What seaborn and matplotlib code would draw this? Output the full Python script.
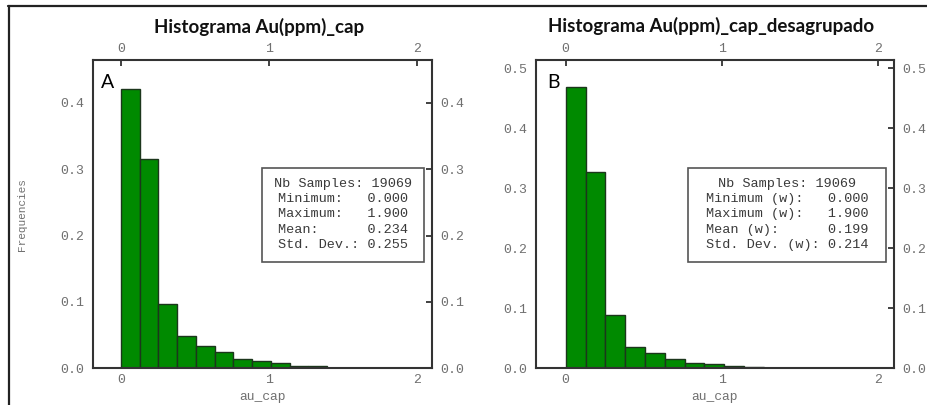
import numpy as np
import pandas as pd
import matplotlib
matplotlib.use("Agg")
import matplotlib.pyplot as plt
from matplotlib.lines import Line2D
from matplotlib.patches import Rectangle
import seaborn as sns

# Histogram data: 15 equal-width bins of au_cap between 0 and 1.9
bin_min = 0.0
bin_max = 1.9
n_bins = 15

# Relative frequencies per bin, raw samples
freq_raw = [0.421, 0.316, 0.0975, 0.049, 0.0336, 0.024, 0.0136, 0.011,
            0.0075, 0.0035, 0.0035, 0.0, 0.0, 0.0, 0.001]
# Relative frequencies per bin, declustered (weighted)
freq_decl = [0.468, 0.327, 0.0896, 0.0356, 0.025, 0.016, 0.009, 0.007,
             0.003, 0.0015, 0.0, 0.0, 0.0, 0.0, 0.0]

titles = ["Histograma Au(ppm)_cap", "Histograma Au(ppm)_cap_desagrupado"]
panel_tags = ["A", "B"]
x_label = "au_cap"
y_label = "Frequencies"

stats_raw = ["Nb Samples: 19069",
             "Minimum:   0.000",
             "Maximum:   1.900",
             "Mean:      0.234",
             "Std. Dev.: 0.255"]
stats_decl = ["Nb Samples: 19069",
              "Minimum (w):   0.000",
              "Maximum (w):   1.900",
              "Mean (w):      0.199",
              "Std. Dev. (w): 0.214"]

x_ticks = [0, 1, 2]
y_ticks_raw = [0.0, 0.1, 0.2, 0.3, 0.4]
y_ticks_decl = [0.0, 0.1, 0.2, 0.3, 0.4, 0.5]

sns.set_theme(style="white")
plt.rcParams["font.family"] = ["Liberation Mono", "DejaVu Sans Mono"]

BAR_GREEN = "#008a00"
BAR_EDGE = "#1c361c"
SPINE = "#333333"
TICK_TXT = "#707070"
STAT_TXT = "#3a3a3a"

fig = plt.figure(figsize=(9.28, 4.05), dpi=100)
W, H = 928.0, 405.0


def px_axes(left, right, top, bottom):
    return fig.add_axes([left / W, 1 - bottom / H, (right - left) / W, (bottom - top) / H])


ax_a = px_axes(92.7, 431.7, 60.3, 368.3)
ax_b = px_axes(536.0, 894.0, 60.3, 368.3)

edges = np.linspace(bin_min, bin_max, n_bins + 1)
centers = (edges[:-1] + edges[1:]) / 2

panels = [
    (ax_a, freq_raw, y_ticks_raw, 0.464, stats_raw, (0.4985, 0.977), 0.738),
    (ax_b, freq_decl, y_ticks_decl, 0.513, stats_decl, (0.4254, 0.9768), 0.701),
]

for i, (ax, freq, yt, ytop, stats, box_x, text_x) in enumerate(panels):
    df = pd.DataFrame({"au_cap": centers, "freq": freq})
    sns.histplot(data=df, x="au_cap", weights="freq", bins=list(edges),
                 stat="count", color=BAR_GREEN, edgecolor=BAR_EDGE,
                 linewidth=1.0, alpha=1.0, ax=ax)
    ax.set_xlim(-0.19, 2.1)
    ax.set_ylim(0, ytop)
    ax.set_xticks(x_ticks)
    ax.set_xticklabels([str(t) for t in x_ticks])
    ax.set_yticks(yt)
    ax.set_yticklabels([f"{t:.1f}" for t in yt])
    ax.grid(False)
    for sp in ax.spines.values():
        sp.set_visible(True)
        sp.set_color(SPINE)
        sp.set_linewidth(1.5)
    ax.tick_params(axis="both", direction="in", length=4, width=1.3,
                   color=SPINE, labelcolor=TICK_TXT, labelsize=9.5,
                   top=True, right=True, labeltop=True, labelright=True)
    ax.tick_params(axis="x", pad=4)
    ax.tick_params(axis="y", pad=6)

    ax.set_xlabel(x_label, fontsize=9.4, color=TICK_TXT)
    ax.xaxis.set_label_position("bottom")
    ax.xaxis.set_label_coords(0.5, -0.075)
    if i == 0:
        ax.set_ylabel(y_label, fontsize=8, color=TICK_TXT)
        ax.yaxis.set_label_position("left")
        ax.yaxis.set_label_coords(-0.195, 0.5)
    else:
        ax.set_ylabel("")

    # statistics box
    ax.add_patch(Rectangle((box_x[0], 0.345), box_x[1] - box_x[0], 0.306,
                           transform=ax.transAxes, facecolor="white",
                           edgecolor="#555555", linewidth=1.2, zorder=5))
    ax.text(text_x, 0.5, "\n".join(stats), transform=ax.transAxes,
            ha="center", va="center", multialignment="center",
            fontsize=9.7, color=STAT_TXT, linespacing=1.36, zorder=6)

    # panel tag
    tag_x = 0.044 if i == 0 else 0.049
    ax.text(tag_x, 0.927, panel_tags[i], transform=ax.transAxes,
            ha="center", va="center", fontsize=14, color="black",
            family=["Lato", "DejaVu Sans"])

# titles
fig.text(259 / W, 1 - 27 / H, titles[0], ha="center", va="center",
         fontsize=13.5, fontweight="bold", color="#111111",
         family=["Lato", "DejaVu Sans"])
fig.text(711 / W, 1 - 26 / H, titles[1], ha="center", va="center",
         fontsize=13.5, fontweight="bold", color="#111111",
         family=["Lato", "DejaVu Sans"])

# outer frame edges
fig.add_artist(Line2D([8 / W, 1.0], [1 - 6 / H, 1 - 6 / H], color="#222222",
                      linewidth=1.6, transform=fig.transFigure))
fig.add_artist(Line2D([9 / W, 9 / W], [0.0, 1 - 6 / H], color="#222222",
                      linewidth=1.6, transform=fig.transFigure))

fig.savefig("out.png", dpi=100)
